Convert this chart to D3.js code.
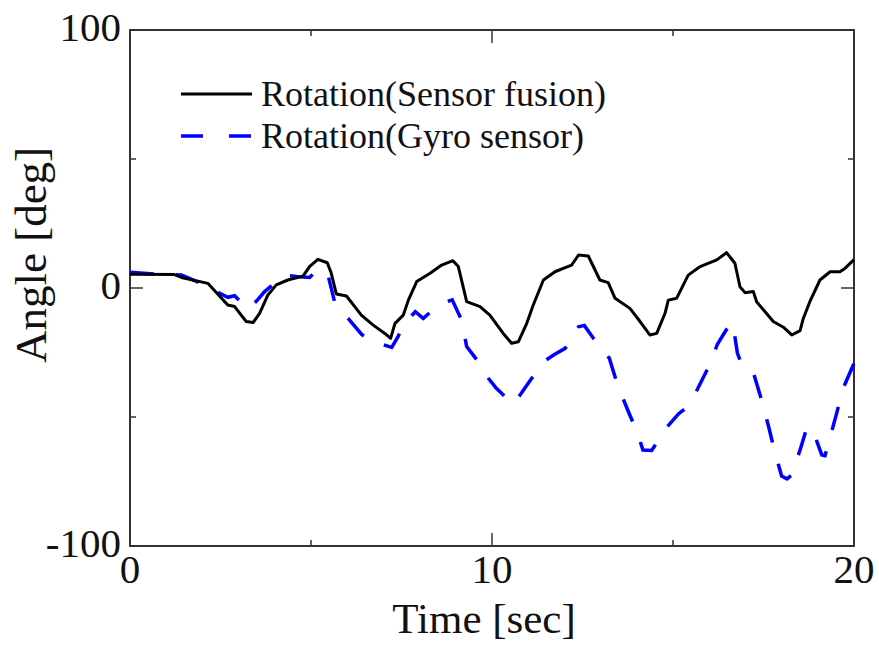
<!DOCTYPE html>
<html>
<head>
<meta charset="utf-8">
<script src="https://cdn.jsdelivr.net/npm/d3@7"></script>
<style>
  body { margin: 0; background: #fff; }
  svg text { font-family: "Liberation Serif", "DejaVu Serif", serif; fill: #111; }
</style>
</head>
<body>
<script>
// time [sec], angle [deg]
const fusionT = [0, 1.23, 1.42, 2.15, 2.7, 2.89, 3.21, 3.4, 3.58, 3.81, 4.04, 4.36, 4.78, 4.96, 5.19, 5.45, 5.56, 5.7, 5.98, 6.39, 6.71,
  7.04, 7.2, 7.32, 7.55, 7.69, 7.92, 8.29, 8.61, 8.92, 9.07, 9.3, 9.67, 9.94, 10.31, 10.54, 10.73, 10.96, 11.14, 11.42, 11.74, 11.97,
  12.2, 12.39, 12.66, 12.98, 13.21, 13.4, 13.81, 14.09, 14.36, 14.55, 14.78, 14.87, 15.1, 15.42, 15.75, 16.02, 16.21, 16.48, 16.71,
  16.85, 16.99, 17.22, 17.31, 17.77, 18.05, 18.28, 18.51, 18.6, 18.78, 19.06, 19.34, 19.61, 19.75, 20];
const fusionA = [5.3, 5.2, 4.1, 1.8, -6.6, -7.2, -13, -13.4, -9.8, -2.7, 1.2, 3.1, 4.6, 8.3, 11.1, 9.8, 5.7, -2.3, -3.1, -10.5, -14.3,
  -17.6, -19.5, -13.7, -10.5, -4.7, 2.5, 5.7, 8.9, 10.6, 8.3, -5.3, -7.2, -10.5, -17.6, -21.4, -20.8, -13.7, -6.6, 3.1, 6.3, 7.6,
  8.9, 12.8, 12.4, 3.1, 2.1, -4, -7.9, -13, -18.2, -17.6, -9.8, -4.7, -4, 5, 8.3, 9.8, 10.9, 13.7, 9.6,
  0.5, -1.8, -1.4, -5.3, -13, -15.2, -18.2, -16.5, -11.8, -5.3, 3.1, 6.3, 6.3, 7.6, 11];

const gyroT = [0, 0.68, 1.0, 1.42, 1.8, 2.06, 2.4, 2.7, 2.89, 3.1, 3.26, 3.5, 3.72, 4.0, 4.28, 4.6, 4.96, 5.2, 5.47, 5.65, 5.8, 6.1,
  6.4, 6.63, 7.0, 7.23, 7.4, 7.55, 7.88, 8.1, 8.4, 8.75, 8.9, 9.16, 9.3, 9.71, 9.9, 10.12, 10.58, 10.8, 11.0, 11.42, 11.7, 12.02,
  12.39, 12.55, 12.8, 13.24, 13.46, 13.74, 14.02, 14.17, 14.41, 14.6, 14.78, 15.15, 15.4, 15.64, 15.98, 16.23, 16.57, 16.65, 16.78,
  16.94, 17.24, 17.44, 17.63, 17.8, 18.0, 18.15, 18.28, 18.51, 18.7, 18.86, 19.11, 19.2, 19.32, 19.52, 19.7, 20];
const gyroA = [6.1, 5.4, 5.3, 5.0, 2.8, 0.8, -1.5, -3.6, -3.0, -6, -8.1, -5, -1.4, 2.0, 5.0, 4.5, 4.1, 7.4, 5.0, -5.3, -8, -13,
  -18, -20.2, -22, -23, -19, -14.3, -9.2, -11.8, -8, -5.3, -4.6, -12.4, -22.7, -30.2, -35, -38.9, -45, -41, -36.9, -28.6, -26, -23.4,
  -15, -14.5, -19.5, -27.2, -37.2, -47, -56.3, -62.8, -63, -59, -54.8, -48.8, -46, -40.2, -30.7, -21.7, -14, -13.5, -25.3,
  -31.1, -33.7, -43.1, -53.1, -62.8, -72.9, -74, -72.5, -62.8, -54, -55, -64.7, -65, -58.9, -48.6, -38.9, -29.2];

const seriesNames = ['Rotation(Sensor fusion)', 'Rotation(Gyro sensor)'];
const xTicks = [0, 10, 20];
const yTicks = [-100, 0, 100];
const xMarks = [5, 10, 15];
const yMarks = [-50, 0, 50];

const width = 879;
const height = 650;

const svg = d3.select('body')
  .append('svg')
  .attr('width', width)
  .attr('height', height);

const x = d3.scaleLinear().domain([0, 20]).range([130, 854]);
const y = d3.scaleLinear().domain([-100, 100]).range([546, 30]);

const line = d3.line()
  .x(d => x(d[0]))
  .y(d => y(d[1]));

const fusion = fusionT.map((t, i) => [t, fusionA[i]]);
const gyro = gyroT.map((t, i) => [t, gyroA[i]]);

// plot frame
svg.append('rect')
  .attr('x', x(0)).attr('y', y(100))
  .attr('width', x(20) - x(0)).attr('height', y(-100) - y(100))
  .attr('fill', 'none')
  .attr('stroke', '#333')
  .attr('stroke-width', 2);

// inward tick marks, middle one longer
const tickLen = (v, mid) => v === mid ? 13 : 6;
const tk = svg.append('g').attr('stroke', '#333').attr('stroke-width', 1.5);
xMarks.forEach(v => {
  tk.append('line').attr('x1', x(v)).attr('x2', x(v)).attr('y1', y(100)).attr('y2', y(100) + tickLen(v, 10));
  tk.append('line').attr('x1', x(v)).attr('x2', x(v)).attr('y1', y(-100)).attr('y2', y(-100) - tickLen(v, 10));
});
yMarks.forEach(v => {
  tk.append('line').attr('x1', x(0)).attr('x2', x(0) + tickLen(v, 0)).attr('y1', y(v)).attr('y2', y(v));
  tk.append('line').attr('x1', x(20)).attr('x2', x(20) - tickLen(v, 0)).attr('y1', y(v)).attr('y2', y(v));
});

// tick labels
svg.selectAll('.ylab')
  .data(yTicks)
  .enter()
  .append('text')
    .attr('class', 'ylab')
    .attr('x', 121)
    .attr('y', d => y(d) + 11)
    .attr('text-anchor', 'end')
    .attr('font-size', 41)
    .text(d => d);

svg.selectAll('.xlab')
  .data(xTicks)
  .enter()
  .append('text')
    .attr('class', 'xlab')
    .attr('x', d => x(d))
    .attr('y', 583)
    .attr('text-anchor', 'middle')
    .attr('font-size', 41)
    .text(d => d);

// axis titles
svg.append('text')
  .attr('x', 484)
  .attr('y', 633)
  .attr('text-anchor', 'middle')
  .attr('font-size', 43)
  .text('Time [sec]');

svg.append('text')
  .attr('transform', 'translate(46, 255) rotate(-90)')
  .attr('text-anchor', 'middle')
  .attr('font-size', 45)
  .text('Angle [deg]');

// data lines
svg.append('path')
  .datum(gyro)
  .attr('d', line)
  .attr('fill', 'none')
  .attr('stroke', '#0000ff')
  .attr('stroke-width', 3.5)
  .attr('stroke-dasharray', '24,22');

svg.append('path')
  .datum(fusion)
  .attr('d', line)
  .attr('fill', 'none')
  .attr('stroke', '#000')
  .attr('stroke-width', 3)
  .attr('stroke-linejoin', 'round');

// legend
const legend = svg.append('g');
const legendStyles = [
  { stroke: '#000', dash: null, width: 3 },
  { stroke: '#0000ff', dash: '22,26', width: 3.5 }
];
seriesNames.forEach((name, i) => {
  const ly = 94 + i * 42;
  legend.append('line')
    .attr('x1', 181).attr('x2', 252)
    .attr('y1', ly).attr('y2', ly)
    .attr('stroke', legendStyles[i].stroke)
    .attr('stroke-width', legendStyles[i].width)
    .attr('stroke-dasharray', legendStyles[i].dash);
  legend.append('text')
    .attr('x', 261)
    .attr('y', ly + 12)
    .attr('font-size', 36)
    .text(name);
});
</script>
</body>
</html>
